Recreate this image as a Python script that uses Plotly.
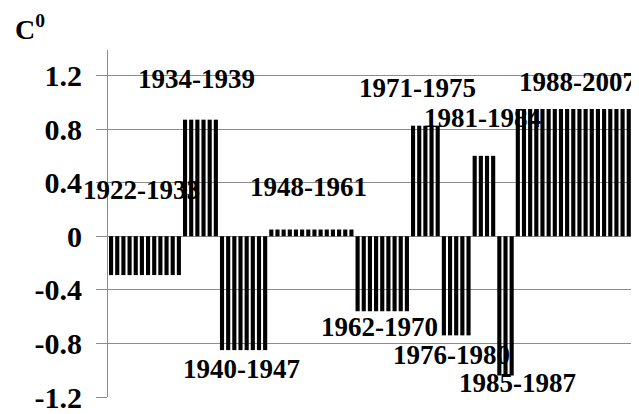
import plotly.graph_objects as go

# periods (start, end) and constant anomaly per period
period_start = [1922, 1934, 1940, 1948, 1962, 1971, 1976, 1981, 1985, 1988]
period_end = [1933, 1939, 1947, 1961, 1970, 1975, 1980, 1984, 1987, 2007]
period_value = [-0.29, 0.87, -0.85, 0.05, -0.56, 0.825, -0.74, 0.60, -1.04, 0.95]

# label anchor points (year, value) for the period names
label_x = [1926.9, 1935.9, 1943.2, 1954.1, 1965.6, 1971.8, 1977.3, 1982.3, 1988.0, 1997.7]
label_y = [0.345, 1.17, -0.99, 0.37, -0.68, 1.11, -0.89, 0.885, -1.095, 1.15]

y_ticks = [-1.2, -0.8, -0.4, 0, 0.4, 0.8, 1.2]
y_ticktext = ["-1.2", "-0.8", "-0.4", "0", "0.4", "0.8", "1.2"]

years = []
values = []
for s, e, v in zip(period_start, period_end, period_value):
    for yr in range(s, e + 1):
        years.append(yr)
        values.append(v)

serif = "Liberation Serif, Times New Roman, serif"
label_font = dict(family=serif, size=27, color="black")
tick_font = dict(family=serif, size=30, color="black")

fig = go.Figure(go.Bar(x=years, y=values, marker_color="black", marker_line_width=0))

for i in range(len(period_start)):
    fig.add_annotation(
        x=label_x[i], y=label_y[i], text="<b>%d-%d</b>" % (period_start[i], period_end[i]),
        showarrow=False, font=label_font, xanchor="center", yanchor="middle",
    )

fig.add_annotation(
    xref="paper", yref="paper", x=-0.18, y=1.065, text="<b>C<sup>0</sup></b>",
    showarrow=False, font=dict(family=serif, size=28, color="black"),
    xanchor="left", yanchor="middle",
)

# page body adds an 8px offset, so the figure is sized to fill the rest
fig.update_layout(
    width=631, height=406,
    margin=dict(l=100, r=1, t=42, b=17, autoexpand=False),
    plot_bgcolor="white", paper_bgcolor="white",
    bargap=0.33, showlegend=False,
    xaxis=dict(range=[1921.5, 2007.5], showticklabels=False, showgrid=False,
               zeroline=False, ticks=""),
    yaxis=dict(range=[-1.2, 1.39], tickvals=y_ticks, ticktext=["<b>%s</b>" % t for t in y_ticktext],
               tickfont=tick_font, showgrid=True, gridcolor="#8c8c8c", gridwidth=1,
               zeroline=True, zerolinecolor="#8c8c8c", zerolinewidth=1,
               showline=True, linecolor="#8c8c8c", linewidth=1,
               ticks="outside", ticklen=11, tickcolor="#8c8c8c",
               ticklabelstandoff=8),
)

fig.write_html("out.html")
